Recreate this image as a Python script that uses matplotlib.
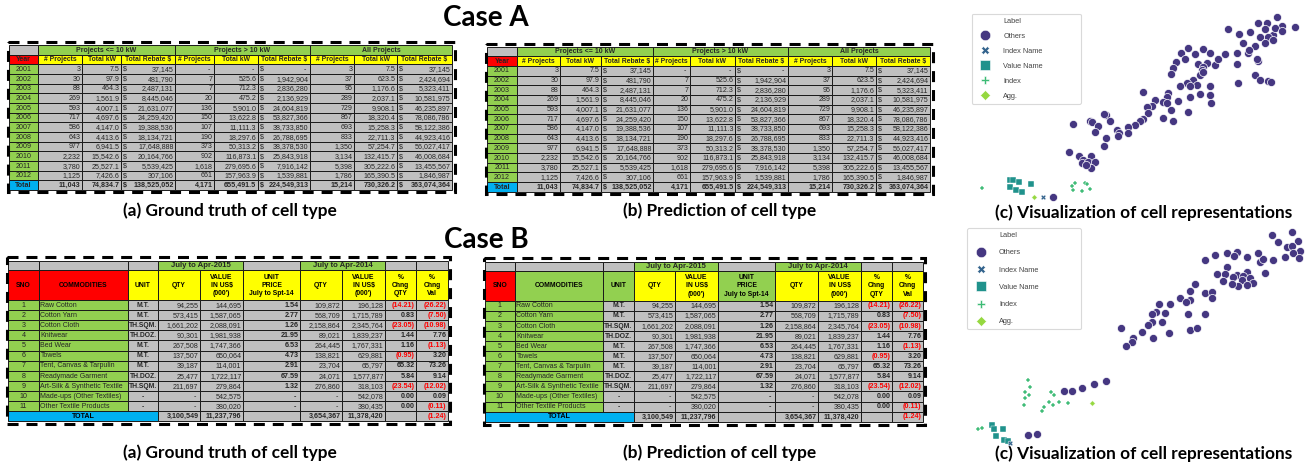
import matplotlib
matplotlib.use('Agg')
import matplotlib.pyplot as plt
from matplotlib.patches import Rectangle
from matplotlib.lines import Line2D

# ---------------- data: Case A table ----------------
groups_a = ['Projects <= 10 kW', 'Projects > 10 kW', 'All Projects']
heads_a = ['# Projects', 'Total kW', 'Total Rebate $'] * 3
years = [2001, 2002, 2003, 2004, 2005, 2006, 2007, 2008, 2009, 2010, 2011, 2012]
g1_proj = [3, 30, 88, 269, 593, 717, 586, 643, 977, 2232, 3780, 1125]
g1_kw = [7.5, 97.9, 464.3, 1561.9, 4007.1, 4697.6, 4147.0, 4413.6, 6941.5, 15542.6, 25527.1, 7426.6]
g1_reb = [37145, 481790, 2487131, 8445046, 21631077, 24259420, 19388536, 18134721,
          17648888, 20164766, 5539425, 307106]
g2_proj = [None, 7, 7, 20, 136, 150, 107, 190, 373, 902, 1618, 661]
g2_kw = [None, 525.6, 712.3, 475.2, 5901.0, 13622.8, 11111.3, 18297.6, 50313.2, 116873.1,
         279695.6, 157963.9]
g2_reb = [None, 1942904, 2836280, 2136929, 24604819, 53827366, 38733850, 26788695,
          38378530, 25843918, 7916142, 1539881]
g3_proj = [3, 37, 95, 289, 729, 867, 693, 833, 1350, 3134, 5398, 1786]
g3_kw = [7.5, 623.5, 1176.6, 2037.1, 9908.1, 18320.4, 15258.3, 22711.3, 57254.7, 132415.7,
         305222.6, 165390.5]
g3_reb = [37145, 2424694, 5323411, 10581975, 46235897, 78086786, 58122386, 44923416,
          56027417, 46008684, 13455567, 1846987]
totals_a = [11043, 74834.7, 138525052, 4171, 655491.5, 224549313, 15214, 730326.2, 363074364]

# ---------------- data: Case B table ----------------
heads_b = ['SNO', 'COMMODITIES', 'UNIT', 'QTY', "VALUE\nIN US$\n(000')",
           'UNIT\nPRICE\nJuly to Spt-14', 'QTY', "VALUE\nIN US$\n(000')",
           '%\nChng\nQTY', '%\nChng\nVal']
commodities = ['Raw Cotton', 'Cotton Yarn', 'Cotton Cloth', 'Knitwear', 'Bed Wear', 'Towels',
               'Tent, Canvas & Tarpulin', 'Readymade Garment', 'Art-Silk & Synthetic Textile',
               'Made-ups (Other Textiles)', 'Other Textile Products']
units = ['M.T.', 'M.T.', 'TH.SQM.', 'TH.DOZ.', 'M.T.', 'M.T.', 'M.T.', 'TH.DOZ.', 'TH.SQM.', '-', '-']
qty15 = [94255, 573415, 1661202, 90301, 267508, 137507, 39187, 25477, 211697, None, None]
val15 = [144695, 1587065, 2088091, 1981938, 1747366, 650064, 114001, 1722117, 279864, 542575, 380020]
unit_price = [1.54, 2.77, 1.26, 21.95, 6.53, 4.73, 2.91, 67.59, 1.32, None, None]
qty14 = [109872, 568709, 2158864, 89021, 264445, 138821, 23704, 24071, 276860, None, None]
val14 = [196128, 1715789, 2345764, 1839237, 1767331, 629881, 65797, 1577877, 318103, 542078, 380435]
chng_qty = [-14.21, 0.83, -23.05, 1.44, 1.16, -0.95, 65.32, 5.84, -23.54, 0.00, 0.00]
chng_val = [-26.22, -7.50, -10.98, 7.76, -1.13, 3.20, 73.26, 9.14, -12.02, 0.09, -0.11]
totals_b = [3100549, 11237796, None, 3654367, 11378420, None, -1.24]

# ---------------- data: embeddings ----------------
labels = ['Others', 'Index Name', 'Value Name', 'Index', 'Agg.']
others_a = [(950, 52), (895, 68), (920, 70), (965, 78), (1005, 82), (805, 86), (838, 102), (870, 95),
            (915, 88), (940, 105), (925, 110), (900, 110), (945, 85), (965, 92), (850, 128), (885, 138),
            (915, 128), (940, 120), (830, 160), (865, 158), (868, 150), (895, 183), (890, 178),
            (830, 193), (885, 225), (900, 240), (925, 242), (932, 245), (835, 250), (795, 162),
            (685, 143), (662, 160), (730, 148), (705, 163), (750, 160), (675, 178), (648, 185),
            (715, 192), (740, 190), (765, 195), (775, 178), (730, 200), (640, 205), (725, 210),
            (632, 222), (720, 225), (728, 215), (700, 240), (680, 248), (710, 255), (690, 258),
            (660, 258), (750, 258), (720, 282), (690, 290), (750, 286), (752, 308), (625, 278),
            (620, 290), (610, 305), (620, 310), (655, 303), (548, 277), (585, 300), (575, 318),
            (632, 330), (685, 335), (560, 322), (565, 338), (548, 358), (540, 363), (525, 375),
            (610, 355), (640, 362), (505, 380), (437, 345), (432, 342), (390, 362), (395, 366),
            (450, 362), (340, 372), (415, 378), (405, 395), (472, 390), (478, 398), (505, 400),
            (475, 408), (437, 415), (432, 437), (327, 457), (358, 467), (393, 468), (370, 480),
            (365, 490), (385, 487), (405, 487), (392, 505), (378, 495), (280, 592)]
index_name_a = [(248, 592)]
value_name_a = [(150, 540), (158, 540), (178, 545), (150, 562), (168, 570), (185, 575), (213, 553)]
index_a = [(65, 565), (345, 550), (375, 548), (390, 567), (340, 570), (365, 573), (335, 558), (382, 552)]
agg_a = [(222, 590)]

others_b = [(935, 30), (997, 22), (955, 52), (1015, 48), (980, 65), (995, 62), (1020, 78), (1000, 85),
            (975, 95), (1018, 100), (938, 105), (900, 110), (910, 102), (895, 85), (860, 97), (830, 82),
            (800, 85), (822, 92), (765, 90), (735, 105), (800, 127), (770, 148), (795, 148), (830, 150),
            (860, 140), (850, 152), (870, 158), (845, 165), (820, 155), (880, 175), (860, 180),
            (835, 183), (815, 178), (790, 168), (915, 145), (705, 178), (690, 198), (735, 205),
            (755, 200), (755, 218), (660, 220), (690, 225), (678, 230), (630, 237), (598, 236),
            (588, 262), (615, 265), (575, 268), (605, 290), (575, 290), (565, 300), (545, 320),
            (578, 338), (628, 323), (690, 315), (710, 308), (735, 268), (685, 267), (520, 338),
            (515, 350), (498, 362), (483, 310), (313, 497), (335, 497), (365, 490), (403, 478),
            (437, 467), (205, 630), (230, 628)]
index_name_b = [(150, 655)]
value_name_b = [(95, 600), (103, 613), (128, 612), (108, 632), (133, 645), (145, 648)]
index_b = [(205, 465), (210, 487), (195, 500), (207, 510), (195, 518), (192, 540), (272, 500),
           (283, 510), (268, 530), (278, 540), (298, 530), (253, 547), (245, 558), (325, 535),
           (55, 612), (65, 610)]
agg_b = [(397, 535)]

# ---------------- style ----------------
GRAY = '#c0c0c0'
GREEN = '#92d050'
YELLOW = '#ffff00'
RED = '#ff0000'
BLUE = '#00b0f0'
TXT = '#262626'
TF = ['Liberation Sans', 'DejaVu Sans']
CF = ['Lato', 'DejaVu Sans']
colors = ['#453781', '#33638d', '#20928c', '#3cbb75', '#95d840']
markers = ['o', 'X', 's', 'P', 'D']

W, H = 1309, 467
fig = plt.figure(figsize=(W / 100, H / 100), dpi=100)
ax = fig.add_axes([0, 0, 1, 1])
ax.set_xlim(0, W)
ax.set_ylim(H, 0)
ax.axis('off')


def fmt_int(v):
    return '-' if v is None else f'{v:,}'


def fmt_kw(v):
    return '-' if v is None else f'{v:,.1f}'


def fmt_2(v):
    return '-' if v is None else f'{v:.2f}'


def fmt_pct(v):
    if v is None:
        return '', TXT
    if v < 0:
        return f'({abs(v):.2f})', RED
    return f'{v:.2f}', TXT


def cell(x0, x1, y0, y1, fc, text='', ha='center', bold=False, color=TXT, fs=5.1, dollar=False):
    ax.add_patch(Rectangle((x0, y0), x1 - x0, y1 - y0, facecolor=fc, edgecolor='#1a1a1a', lw=0.7))
    if dollar:
        ax.text(x0 + 1.5, (y0 + y1) / 2 + 0.3, '$', ha='left', va='center', fontsize=fs,
                fontweight='bold' if bold else 'normal', color=color, family=TF)
    if text:
        pad = 4 if text == '-' else 1.5
        tx = {'center': (x0 + x1) / 2, 'left': x0 + 1.5, 'right': x1 - pad}[ha]
        ax.text(tx, (y0 + y1) / 2 + 0.3, text, ha=ha, va='center', fontsize=fs,
                fontweight='bold' if bold else 'normal', color=color, family=TF,
                linespacing=1.25, multialignment='center')


def frame(x0, y0, x1, y1):
    ax.add_patch(Rectangle((x0, y0), x1 - x0, y1 - y0, fill=False, edgecolor='black',
                           lw=2.2, linestyle=(0, (3.6, 2.6)), zorder=5))


def table_a(xe, top, rh):
    ye = [top + i * rh for i in range(16)]
    cell(xe[0], xe[1], ye[0], ye[1], GRAY)
    for g, name in enumerate(groups_a):
        cell(xe[1 + 3 * g], xe[4 + 3 * g], ye[0], ye[1], GREEN, name, bold=True, fs=5.0)
    cell(xe[0], xe[1], ye[1], ye[2], RED, 'Year', bold=True, fs=5.0)
    for c, h in enumerate(heads_a):
        cell(xe[c + 1], xe[c + 2], ye[1], ye[2], YELLOW, h, bold=True, fs=4.9)
    cols = [g1_proj, g1_kw, g1_reb, g2_proj, g2_kw, g2_reb, g3_proj, g3_kw, g3_reb]
    fmts = [fmt_int, fmt_kw, fmt_int] * 3
    for r in range(len(years) + 1):
        last = r == len(years)
        cell(xe[0], xe[1], ye[r + 2], ye[r + 3], BLUE if last else GREEN,
             'Total' if last else str(years[r]), bold=last)
        for c, col in enumerate(cols):
            v = totals_a[c] if last else col[r]
            cell(xe[c + 1], xe[c + 2], ye[r + 2], ye[r + 3], GRAY, fmts[c](v), ha='right',
                 bold=last, dollar=(c % 3 == 2))
    frame(xe[0] - 1, top - 3, xe[-1] + 2.5, ye[-1] + 2)


def table_b(xe, top, head_colors):
    ye = [top, top + 9] + [top + 39 + i * 10.1 for i in range(13)]
    for c in (0, 1, 2, 5, 8, 9):
        cell(xe[c], xe[c + 1], ye[0], ye[1], GRAY)
    cell(xe[3], xe[5], ye[0], ye[1], GREEN, 'July to Apr-2015', bold=True, fs=5.6)
    cell(xe[6], xe[8], ye[0], ye[1], GREEN, 'July to Apr-2014', bold=True, fs=5.6)
    for c, h in enumerate(heads_b):
        cell(xe[c], xe[c + 1], ye[1], ye[2], head_colors[c], h, bold=True, color='black', fs=4.9)
    for r in range(len(commodities)):
        y0, y1 = ye[r + 2], ye[r + 3]
        cell(xe[0], xe[1], y0, y1, GREEN, str(r + 1))
        cell(xe[1], xe[2], y0, y1, GREEN, commodities[r], ha='left', fs=5.0)
        cell(xe[2], xe[3], y0, y1, GRAY, units[r], bold=True, fs=4.9)
        cell(xe[3], xe[4], y0, y1, GRAY, fmt_int(qty15[r]), ha='right')
        cell(xe[4], xe[5], y0, y1, GRAY, fmt_int(val15[r]), ha='right')
        cell(xe[5], xe[6], y0, y1, GRAY, fmt_2(unit_price[r]), ha='right', bold=True)
        cell(xe[6], xe[7], y0, y1, GRAY, fmt_int(qty14[r]), ha='right')
        cell(xe[7], xe[8], y0, y1, GRAY, fmt_int(val14[r]), ha='right')
        t, col = fmt_pct(chng_qty[r])
        cell(xe[8], xe[9], y0, y1, GRAY, t, ha='right', bold=True, color=col)
        t, col = fmt_pct(chng_val[r])
        cell(xe[9], xe[10], y0, y1, GRAY, t, ha='right', bold=True, color=col)
    y0, y1 = ye[13], ye[14]
    cell(xe[0], xe[3], y0, y1, BLUE, 'TOTAL', bold=True, color='black')
    for c in range(6):
        v = totals_b[c]
        cell(xe[c + 3], xe[c + 4], y0, y1, GRAY, '' if v is None else fmt_int(v), ha='right', bold=True)
    t, col = fmt_pct(totals_b[6])
    cell(xe[9], xe[10], y0, y1, GRAY, t, ha='right', bold=True, color=col)
    frame(xe[0] - 1, top - 4, xe[-1] + 2, ye[-1] + 3)


table_a([9, 38, 82, 121, 175, 214, 258, 310, 354, 397, 452], 45, 9.67)
table_a([487, 517, 560, 601, 653, 690, 735, 788, 832, 876, 930], 46.5, 9.67)
table_b([8, 39, 128, 158, 200, 243, 300, 342, 385, 416, 448], 261,
        [RED, RED, YELLOW, YELLOW, YELLOW, YELLOW, YELLOW, YELLOW, YELLOW, YELLOW])
table_b([485, 515, 603, 634, 675, 718, 775, 818, 861, 892, 923], 261.5,
        [RED, GREEN, GREEN, YELLOW, YELLOW, GREEN, YELLOW, YELLOW, YELLOW, YELLOW])

ax.text(486, 18, 'Case A', ha='center', va='center', fontsize=20, fontweight='bold', family=CF)
ax.text(486, 240, 'Case B', ha='center', va='center', fontsize=20, fontweight='bold', family=CF)
for y, yc in ((211, 213), (453, 454)):
    ax.text(230, y, '(a) Ground truth of cell type', ha='center', va='center', fontsize=12.4,
            fontweight='bold', family=CF)
    ax.text(720, y, '(b) Prediction of cell type', ha='center', va='center', fontsize=12.4,
            fontweight='bold', family=CF)
    ax.text(1144, yc, '(c) Visualization of cell representations', ha='center', va='center',
            fontsize=12.4, fontweight='bold', family=CF)


# ---------------- scatter panels ----------------
def scatter_panel(rect, xmax, ymax, groups, leg_box, spacing):
    sa = fig.add_axes(rect)
    sa.set_xlim(0, xmax)
    sa.set_ylim(ymax, 0)
    sa.axis('off')
    sizes = [34, 14, 16, 12, 8]
    for i, pts in enumerate(groups):
        xs = [p[0] for p in pts]
        ys = [p[1] for p in pts]
        sa.scatter(xs, ys, s=sizes[i], marker=markers[i], color=colors[i],
                   edgecolor='white', linewidths=0.5 if i == 0 else 0.3, zorder=3 - 0.1 * i)
    handles = [Line2D([], [], linestyle='', marker='')]
    hsz = [7.5, 6, 6.5, 5.5, 5]
    for i in range(5):
        handles.append(Line2D([], [], linestyle='', marker=markers[i], color=colors[i],
                              markeredgecolor='white', markeredgewidth=0.4, markersize=hsz[i]))
    leg = sa.legend(handles, ['Label'] + labels, loc='upper left', bbox_to_anchor=leg_box,
                    mode='expand', borderaxespad=0, labelspacing=spacing,
                    handlelength=2.6, handletextpad=1.2, borderpad=0.5, frameon=True,
                    fancybox=True, labelcolor='#444444', prop={'family': 'Liberation Sans', 'size': 5.3})
    leg.get_frame().set_edgecolor('#d0d0d0')
    leg.get_frame().set_linewidth(0.8)


scatter_panel([960 / W, (H - 225) / H, 349 / W, 225 / H], 1047, 675,
              [others_a, index_name_a, value_name_a, index_a, agg_a],
              (35 / 1047, 1 - 42 / 675, 327 / 1047, 0.0), 1.07)
scatter_panel([960 / W, 0, 349 / W, 242 / H], 1047, 726,
              [others_b, index_name_b, value_name_b, index_b, agg_b],
              (22 / 1047, 1 - 10 / 726, 340 / 1047, 0.0), 1.37)

fig.savefig('out.png', dpi=100)
